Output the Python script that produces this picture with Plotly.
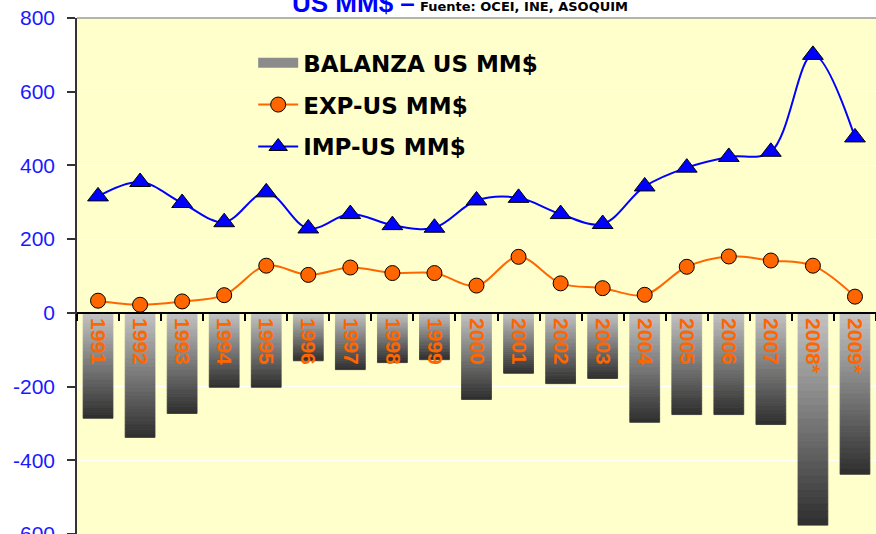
import plotly.graph_objects as go

years = ["1991", "1992", "1993", "1994", "1995", "1996", "1997", "1998", "1999", "2000",
         "2001", "2002", "2003", "2004", "2005", "2006", "2007", "2008*", "2009*"]
balanza = [-286, -338, -273, -202, -202, -130, -154, -135, -127, -235,
           -164, -192, -178, -297, -276, -276, -303, -576, -438]
exp_vals = [33, 22, 31, 48, 128, 103, 123, 108, 108, 74,
            152, 80, 67, 49, 125, 153, 142, 128, 44]
imp_vals = [316, 355, 298, 246, 327, 229, 268, 238, 231, 305,
            312, 268, 241, 343, 394, 423, 437, 700, 476]
y_ticks = [-600, -400, -200, 0, 200, 400, 600, 800]
y_tick_text = ["-600", "-400", "-200", "0", "200", "400", "600", "800"]

fig = go.Figure()

# legend-only swatch for the balance bars
fig.add_trace(go.Scatter(x=[None], y=[None], mode="lines",
                         line=dict(color="#8c8c8c", width=13),
                         name="BALANZA US MM$", legendgroup="a", hoverinfo="skip"))

# gradient bars: each bar split into N stacked slices, light at top to dark at bottom
N = 30
top_c = (196, 196, 196)
bot_c = (46, 46, 46)
for k in range(N):
    t = (k + 0.5) / N
    c = tuple(int(round(top_c[i] + (bot_c[i] - top_c[i]) * t)) for i in range(3))
    col = "rgb(%d,%d,%d)" % c
    fig.add_trace(go.Bar(x=years, y=[v / N for v in balanza], width=0.71,
                         marker=dict(color=col, line=dict(width=0.8, color=col)),
                         showlegend=False, hoverinfo="skip"))

fig.add_trace(go.Scatter(x=years, y=exp_vals, mode="lines+markers", name="EXP-US MM$",
                         legendgroup="b",
                         line=dict(color="#FF6600", width=2, shape="spline"),
                         marker=dict(symbol="circle", size=15, color="#FF6600",
                                     line=dict(color="black", width=1))))
fig.add_trace(go.Scatter(x=years, y=imp_vals, mode="lines+markers", name="IMP-US MM$",
                         legendgroup="c",
                         line=dict(color="#0000FF", width=2, shape="spline"),
                         marker=dict(symbol="triangle-up", size=18, color="#0000FF",
                                     line=dict(color="black", width=1))))

fig.update_layout(
    width=876, height=534,
    margin=dict(l=77, r=0, t=18, b=0, autoexpand=False),
    paper_bgcolor="white", plot_bgcolor="#FFFFCC",
    barmode="relative",
    showlegend=True,
    legend=dict(x=0.2205, y=0.955, xanchor="left", yanchor="top",
                bgcolor="rgba(0,0,0,0)", traceorder="grouped", tracegroupgap=9,
                itemwidth=40,
                font=dict(family="DejaVu Sans", size=23, color="black", weight="bold")),
    xaxis=dict(type="category", range=[-0.5, len(years) - 0.5],
               anchor="free", position=600 / 1400, automargin=False,
               showline=True, linecolor="black", linewidth=2,
               ticks="outside", ticklen=7, tickwidth=2, tickcolor="black",
               tickson="boundaries", tickangle=90, showgrid=False,
               tickfont=dict(family="Liberation Sans", size=21, color="#FF6600",
                             weight="bold"),
               layer="above traces"),
    yaxis=dict(range=[-600, 800], tickvals=y_ticks, ticktext=y_tick_text, automargin=False,
               ticklabeloverflow="allow",
               showgrid=True, gridcolor="white", gridwidth=1,
               showline=True, linecolor="#333333", linewidth=1.5,
               ticks="outside", ticklen=8, tickwidth=1.5, tickcolor="#333333",
               zeroline=False, ticklabelstandoff=8,
               tickfont=dict(family="Liberation Sans", size=21, color="#1A1AFF")),
    shapes=[dict(type="line", xref="paper", yref="y domain", x0=0, x1=1, y0=1, y1=1,
                 line=dict(color="#9a9a9a", width=1.5))],
    annotations=[
        dict(text="<b>US MM$ –</b>", xref="paper", yref="paper", x=0.2666, y=1,
             xanchor="left", yanchor="bottom", yshift=-2, showarrow=False,
             font=dict(family="Liberation Sans", size=26, color="#0000FF")),
        dict(text="<b>Fuente: OCEI, INE, ASOQUIM</b>", xref="paper", yref="paper",
             x=0.4268, y=1, xanchor="left", yanchor="bottom", yshift=2, showarrow=False,
             font=dict(family="DejaVu Sans", size=13, color="black")),
    ],
)

fig.write_html("out.html", config={"displayModeBar": False},
               post_script="document.body.style.margin='0';")
